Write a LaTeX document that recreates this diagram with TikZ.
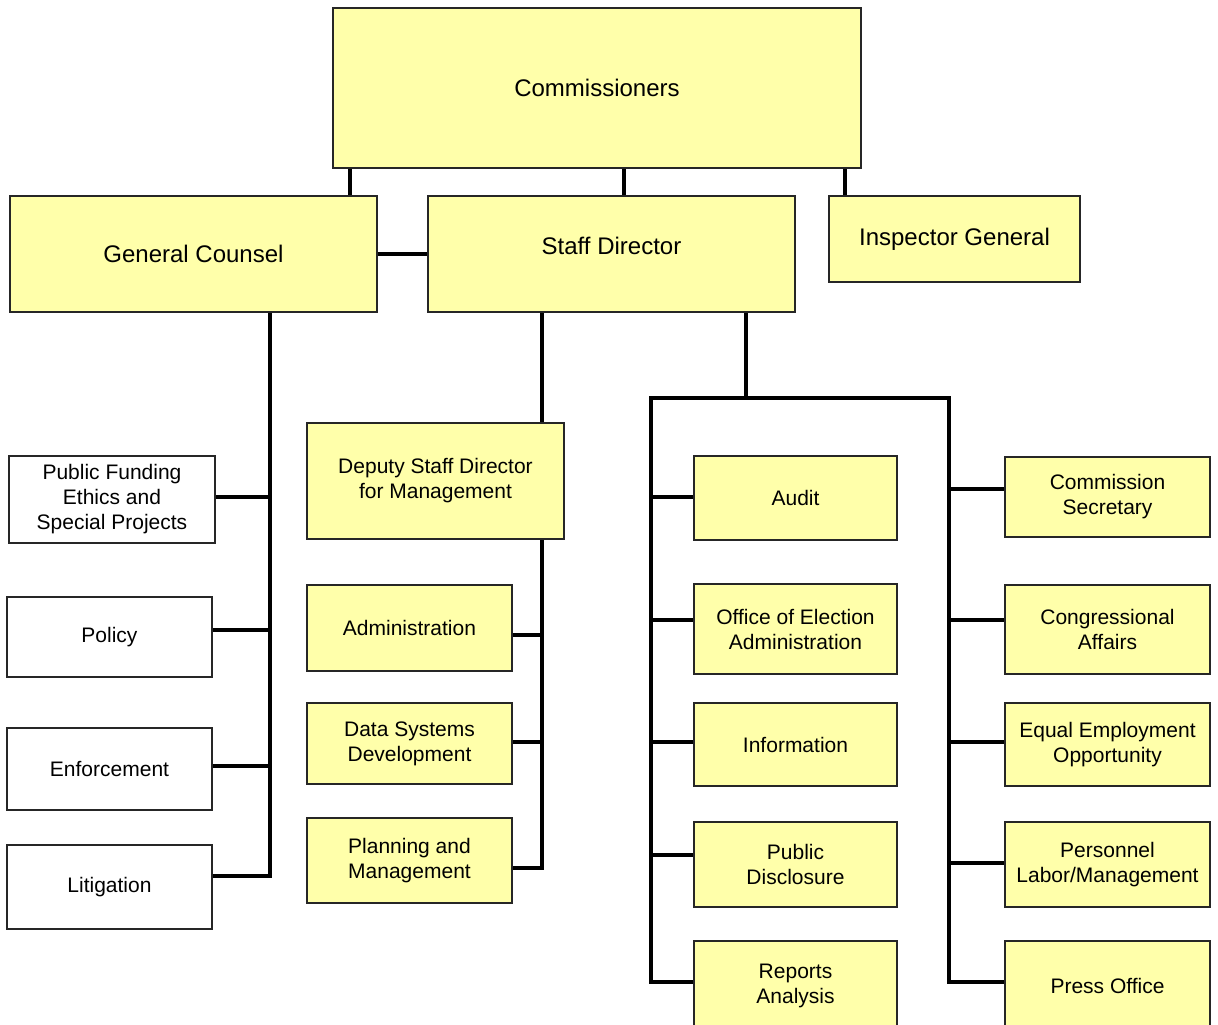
\documentclass[tikz,border=0pt]{standalone}
\usepackage{fontspec}
\setmainfont{Liberation Sans}
\usetikzlibrary{backgrounds}
\definecolor{boxfill}{RGB}{255,255,170}
\tikzset{
  unit/.style={draw=black!85, line width=1.8pt, fill=boxfill, align=center,
    inner sep=2pt, font=\fontsize{21}{25}\selectfont},
  head/.style={unit, font=\fontsize{24}{28}\selectfont},
  legal/.style={unit, fill=white},
  sz/.style 2 args={minimum width=#1pt, minimum height=#2pt},
  link/.style={line width=3.6pt, line cap=rect, line join=miter}
}

\begin{document}
\begin{tikzpicture}[x=1pt, y=-1pt]
\useasboundingbox (0,0) rectangle (1218,1025);
\clip (0,0) rectangle (1218,1025);

% top level
\node[head, sz={528}{160}] (comm) at (597,88) {Commissioners};
\node[head, sz={367}{116}] (gc) at (193.5,254) {General Counsel};
\node[head, sz={367}{116}, text depth=16pt] (sd) at (611.5,254) {Staff Director};
\node[head, sz={251}{86}] (ig) at (954.5,239) {Inspector General};

% general counsel offices
\node[legal, sz={206}{87}] (pf) at (112,499.5) {Public Funding\\Ethics and\\Special Projects};
\node[legal, sz={205}{80}] (pol) at (109.5,637) {Policy};
\node[legal, sz={205}{82}] (enf) at (109.5,769) {Enforcement};
\node[legal, sz={205}{84}] (lit) at (109.5,887) {Litigation};

% management
\node[unit, sz={257}{116}] (dep) at (435.5,481) {Deputy Staff Director\\for Management};
\node[unit, sz={205}{86}] (adm) at (409.5,628) {Administration};
\node[unit, sz={205}{81}] (dsd) at (409.5,743.5) {Data Systems\\Development};
\node[unit, sz={205}{85}] (pm) at (409.5,860.5) {Planning and\\Management};

% staff director offices
\node[unit, sz={203}{84}] (audit) at (795.5,498) {Audit};
\node[unit, sz={203}{90}] (oea) at (795.5,629) {Office of Election\\Administration};
\node[unit, sz={203}{83}] (info) at (795.5,744.5) {Information};
\node[unit, sz={203}{85}] (pd) at (795.5,864.5) {Public\\Disclosure};
\node[unit, sz={203}{89}] (ra) at (795.5,985.5) {Reports\\Analysis};

\node[unit, sz={205}{80}] (cs) at (1107.5,497) {Commission\\Secretary};
\node[unit, sz={205}{89}] (ca) at (1107.5,629.5) {Congressional\\Affairs};
\node[unit, sz={205}{83}] (eeo) at (1107.5,744.5) {Equal Employment\\Opportunity};
\node[unit, sz={205}{85}] (plm) at (1107.5,864.5) {Personnel\\Labor/Management};
\node[unit, sz={205}{89}] (po) at (1107.5,985.5) {Press Office};

\begin{scope}[on background layer]
% from the commissioners
\draw[link] (comm.south -| 350,0) -- (gc.north -| 350,0);
\draw[link] (comm.south -| 624,0) -- (sd.north -| 624,0);
\draw[link] (comm.south -| 845,0) -- (ig.north -| 845,0);
\draw[link] (gc.east) -- (sd.west);

% buses
\draw[link] (gc.south -| 270,0) -- (270,876);
\draw[link] (sd.south -| 542,0) -- (dep.north -| 542,0);
\draw[link] (dep.south -| 542,0) -- (542,868);
\draw[link] (sd.south -| 746,0) -- (746,398);
\draw[link] (651,982) -- (651,398) -- (949,398) -- (949,982);

% branches
\foreach \b/\y in {pf/497, pol/630, enf/766, lit/876}
  \draw[link] (270,\y) -- (\b.east |- 270,\y);
\foreach \b/\y in {adm/635, dsd/742, pm/868}
  \draw[link] (542,\y) -- (\b.east |- 542,\y);
\foreach \b/\y in {audit/497, oea/620, info/742, pd/855, ra/982}
  \draw[link] (651,\y) -- (\b.west |- 651,\y);
\foreach \b/\y in {cs/489, ca/620, eeo/742, plm/863, po/982}
  \draw[link] (949,\y) -- (\b.west |- 949,\y);
\end{scope}
\end{tikzpicture}
\end{document}
